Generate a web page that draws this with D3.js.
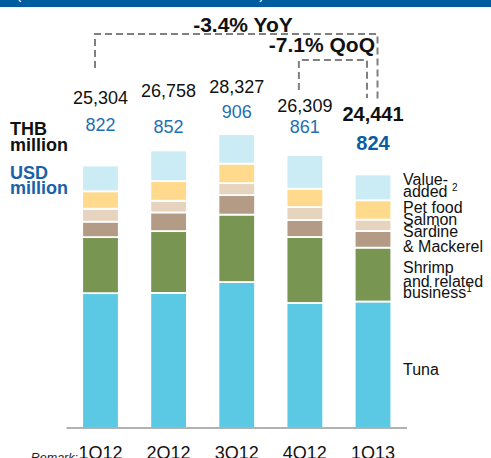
<!DOCTYPE html>
<html>
<head>
<meta charset="utf-8">
<script src="https://cdn.jsdelivr.net/npm/d3@7"></script>
<style>
  body { margin: 0; background: #fff; }
  svg { display: block; font-family: "Liberation Sans", Arial, sans-serif; }
</style>
</head>
<body>
<svg id="chart" width="491" height="458"></svg>
<script>
'use strict';

// quarters and sales (THB million) by product, stacked bottom to top
var quarters = ['1Q12', '2Q12', '3Q12', '4Q12', '1Q13'];
var tuna      = [13000, 13020, 14070, 12050, 12195];
var shrimp    = [5400, 5960, 6500, 6360, 5190];
var sardine   = [1490, 1800, 1880, 1640, 1610];
var salmon    = [1250, 1130, 1155, 1250, 1090];
var petFood   = [1680, 1890, 1880, 1760, 1870];
var valueAdd  = [2484, 2958, 2842, 3249, 2486];
var totalThb  = ['25,304', '26,758', '28,327', '26,309', '24,441'];
var totalUsd  = ['822', '852', '906', '861', '824'];

var seriesKeys = ['tuna', 'shrimp', 'sardine', 'salmon', 'petFood', 'valueAdd'];
var colors = {
    tuna: '#5bc9e3', shrimp: '#789552', sardine: '#b39b86',
    salmon: '#e6d4bf', petFood: '#ffda8c', valueAdd: '#cbecf5'
};

// label baselines
var thbLabelY = [104, 97, 93, 112, 121];
var usdLabelY = [131, 133, 118, 133, 150];

var rows = quarters.map(function (q, i) {
    return { q: q, tuna: tuna[i], shrimp: shrimp[i], sardine: sardine[i],
             salmon: salmon[i], petFood: petFood[i], valueAdd: valueAdd[i] };
});

var svg = d3.select('#chart');
var baseY = 428;

var x = d3.scaleBand().domain(quarters).range([66.5, 407])
    .paddingInner(0.486).paddingOuter(0.242);
var y = d3.scaleLinear().domain([0, 30000]).range([baseY, baseY - 30000 / 96.4]);

// header band (cut off at top)
svg.append('rect').attr('x', 0).attr('y', 0).attr('width', 491).attr('height', 7)
    .attr('fill', '#005ca1');
svg.append('text').attr('x', 16).attr('y', -1.5).attr('fill', '#fff')
    .attr('font-size', 16).text('(Unit: THB million and USD million)');

// stacked bars
var stack = d3.stack().keys(seriesKeys)(rows);
svg.append('g').selectAll('g').data(stack).enter().append('g')
    .attr('fill', function (s) { return colors[s.key]; })
  .selectAll('rect').data(function (s) { return s; }).enter().append('rect')
    .attr('x', function (d) { return x(d.data.q) - 0.8; })
    .attr('width', x.bandwidth() + 1.6)
    .attr('y', function (d) { return y(d[1]); })
    .attr('height', function (d) { return y(d[0]) - y(d[1]); })
    .attr('stroke', '#fff').attr('stroke-width', 1.8);

// baseline
svg.append('line').attr('x1', 66.5).attr('x2', 407).attr('y1', baseY).attr('y2', baseY)
    .attr('stroke', '#999').attr('stroke-width', 1.5);

// x labels
svg.append('g').selectAll('text').data(quarters).enter().append('text')
    .attr('x', function (d) { return x(d) + x.bandwidth() / 2; })
    .attr('y', 459).attr('text-anchor', 'middle').attr('font-size', 18)
    .attr('fill', '#111').text(function (d) { return d; });
svg.append('text').attr('x', 78).attr('y', 462).attr('text-anchor', 'end')
    .attr('font-size', 12.5).attr('font-style', 'italic').attr('fill', '#222').text('Remark:');

// totals
var last = quarters.length - 1;
svg.append('g').selectAll('text').data(totalThb).enter().append('text')
    .attr('x', function (d, i) { return x(quarters[i]) + x.bandwidth() / 2; })
    .attr('y', function (d, i) { return thbLabelY[i]; })
    .attr('text-anchor', 'middle')
    .attr('font-size', function (d, i) { return i === last ? 20 : 18; })
    .attr('font-weight', function (d, i) { return i === last ? 'bold' : 'normal'; })
    .attr('fill', '#111').text(function (d) { return d; });
svg.append('g').selectAll('text').data(totalUsd).enter().append('text')
    .attr('x', function (d, i) { return x(quarters[i]) + x.bandwidth() / 2; })
    .attr('y', function (d, i) { return usdLabelY[i]; })
    .attr('text-anchor', 'middle')
    .attr('font-size', function (d, i) { return i === last ? 20 : 18; })
    .attr('font-weight', function (d, i) { return i === last ? 'bold' : 'normal'; })
    .attr('fill', function (d, i) { return i === last ? '#0a5ca3' : '#1f6fb0'; })
    .text(function (d) { return d; });

// unit labels on the left
var unit = svg.append('g').attr('font-size', 18).attr('font-weight', 'bold');
unit.append('text').attr('x', 10).attr('y', 135).attr('fill', '#111').text('THB');
unit.append('text').attr('x', 10).attr('y', 150.5).attr('fill', '#111').text('million');
unit.append('text').attr('x', 10).attr('y', 179).attr('fill', '#1a62a8').text('USD');
unit.append('text').attr('x', 10).attr('y', 194).attr('fill', '#1a62a8').text('million');

// legend labels at the right of the last bar
var legendLines = [
    { t: 'Value-', y: 184.5 }, { t: 'added ', sup: '2', y: 196.5 },
    { t: 'Pet food', y: 213 }, { t: 'Salmon', y: 225 }, { t: 'Sardine', y: 237 },
    { t: '& Mackerel', y: 251.5 }, { t: 'Shrimp', y: 272.5 },
    { t: 'and related', y: 286.5 }, { t: 'business', sup: '1', y: 298 },
    { t: 'Tuna', y: 375 }
];
var legend = svg.append('g').attr('font-size', 16).attr('fill', '#111');
legendLines.forEach(function (l) {
    var t = legend.append('text').attr('x', 403).attr('y', l.y).text(l.t);
    if (l.sup) {
        t.append('tspan').attr('font-size', 10).attr('dy', -6).text(l.sup);
    }
});

// YoY / QoQ brackets
var cx = function (i) { return x(quarters[i]) + x.bandwidth() / 2; };
var dash = svg.append('g').attr('fill', 'none').attr('stroke', '#808080')
    .attr('stroke-width', 2).attr('stroke-dasharray', '7,4');
dash.append('path').attr('d', d3.line()([[cx(0) - 5.5, 68], [cx(0) - 5.5, 34],
    [cx(last) + 4.5, 34], [cx(last) + 4.5, 101]]));
dash.append('path').attr('d', d3.line()([[cx(3) - 6, 90], [cx(3) - 6, 60],
    [cx(last) - 6, 60], [cx(last) - 6, 98]]));

svg.append('text').attr('x', 243).attr('y', 32).attr('text-anchor', 'middle')
    .attr('font-size', 21).attr('font-weight', 'bold').attr('fill', '#111').text('-3.4% YoY');
svg.append('text').attr('x', 375).attr('y', 52).attr('text-anchor', 'end')
    .attr('font-size', 21).attr('font-weight', 'bold').attr('fill', '#111').text('-7.1% QoQ');
</script>
</body>
</html>
